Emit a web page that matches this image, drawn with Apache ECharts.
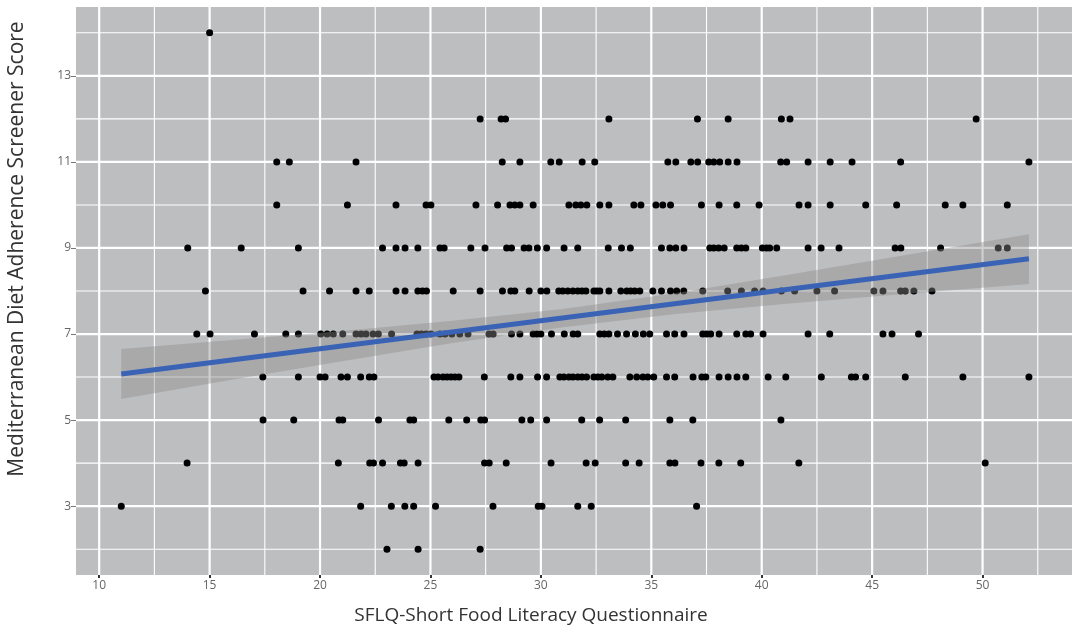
<!DOCTYPE html>
<html>
<head>
<meta charset="utf-8">
<script src="https://cdn.jsdelivr.net/npm/echarts@6/dist/echarts.min.js"></script>
<style>
html,body{margin:0;padding:0;background:#fff;}
#chart{width:1072px;height:632px;}
</style>
</head>
<body>
<div id="chart"></div>
<script>
// SFLQ scores (x) grouped by MEDAS score (y)
const score14 = [15.0];
const score13 = [];
const score12 = [27.25, 28.2, 28.4, 33.08, 37.09, 38.48, 40.89, 41.28, 49.71];
const score11 = [18.04, 18.61, 21.63, 28.25, 29.05, 30.45, 30.83, 31.87, 32.44, 35.75, 36.11, 36.79, 37.10, 37.60, 37.83, 38.10, 38.48, 38.88, 40.86, 41.13, 42.10, 43.10, 44.09, 46.29, 52.1];
const score10 = [18.04, 21.24, 23.44, 24.80, 25.02, 27.06, 28.04, 28.60, 28.82, 29.05, 29.65, 31.27, 31.58, 31.81, 32.08, 32.67, 33.08, 34.21, 34.53, 35.21, 35.52, 35.87, 37.27, 38.07, 38.87, 39.88, 41.69, 42.10, 43.10, 44.71, 46.11, 48.31, 49.11, 51.12];
const score9 = [14.01, 16.43, 19.02, 22.83, 23.44, 23.85, 24.43, 25.43, 25.62, 26.83, 27.47, 28.45, 28.67, 29.24, 29.46, 29.84, 30.26, 31.05, 31.67, 33.05, 33.65, 34.05, 35.46, 35.84, 36.11, 36.48, 37.65, 37.83, 38.05, 38.30, 38.87, 39.08, 39.28, 40.03, 40.21, 40.36, 40.68, 42.10, 42.69, 43.50, 46.04, 46.30, 48.10, 50.71, 51.12];
const score8 = [14.81, 19.23, 20.43, 21.63, 22.23, 23.44, 23.85, 24.43, 24.64, 24.82, 26.03, 27.25, 28.26, 28.64, 28.82, 29.47, 30.00, 30.27, 30.81, 30.99, 31.22, 31.45, 31.67, 31.86, 32.04, 32.40, 32.53, 32.67, 33.08, 33.62, 33.89, 34.07, 34.25, 34.48, 35.07, 35.46, 35.87, 36.15, 36.47, 37.33, 38.46, 39.08, 39.68, 40.06, 40.89, 41.49, 42.50, 43.30, 45.08, 45.49, 46.29, 46.50, 46.89, 47.71];
const score7 = [14.42, 15.02, 17.03, 18.45, 19.02, 20.03, 20.32, 20.60, 21.03, 21.63, 21.86, 22.08, 22.40, 22.64, 23.24, 24.39, 24.59, 24.80, 25.02, 25.43, 25.66, 25.97, 26.33, 26.70, 27.65, 27.84, 28.67, 29.05, 29.65, 29.82, 30.00, 30.48, 31.06, 31.46, 31.67, 32.67, 32.87, 33.08, 33.47, 33.88, 34.28, 34.64, 34.93, 35.69, 36.06, 36.48, 37.33, 37.51, 37.69, 38.07, 38.87, 39.28, 39.50, 40.06, 42.10, 43.08, 45.49, 45.90, 47.10];
const score6 = [17.41, 19.02, 20.00, 20.23, 20.95, 21.24, 21.84, 22.23, 22.44, 25.16, 25.34, 25.57, 25.75, 25.93, 26.11, 26.29, 27.44, 28.64, 29.05, 29.85, 30.26, 30.86, 31.04, 31.27, 31.45, 31.67, 31.86, 32.07, 32.40, 32.58, 32.76, 33.03, 33.26, 34.03, 34.34, 34.62, 34.84, 35.11, 35.69, 36.06, 36.89, 37.29, 37.47, 38.07, 38.48, 38.88, 39.28, 40.29, 41.09, 42.70, 44.06, 44.25, 44.71, 46.50, 49.11, 52.1];
const score5 = [17.42, 18.81, 20.86, 21.03, 22.65, 24.07, 24.24, 25.83, 26.64, 27.28, 27.45, 29.14, 29.54, 30.26, 31.85, 32.66, 33.84, 35.84, 36.88, 40.87];
const score4 = [13.98, 20.83, 22.25, 22.42, 22.83, 23.64, 23.81, 24.44, 27.45, 27.66, 28.43, 30.46, 32.05, 32.46, 33.84, 34.45, 35.84, 36.07, 37.25, 38.06, 39.05, 41.68, 50.12];
const score3 = [11.0, 21.84, 23.23, 23.84, 24.24, 25.23, 27.83, 29.88, 30.05, 31.67, 32.28, 37.05];
const score2 = [23.03, 24.44, 27.25];

// linear fit line and its confidence band
const fitX = [11.0, 52.1];
const fitY = [6.07, 8.75];
const bandX = [11, 16, 21, 26, 31, 36, 41, 46, 52.1];
const bandUpper = [6.65, 6.86, 7.07, 7.31, 7.58, 7.94, 8.36, 8.79, 9.32];
const bandLower = [5.49, 5.94, 6.37, 6.79, 7.16, 7.46, 7.70, 7.91, 8.16];

// ticks
const xMajor = [10, 15, 20, 25, 30, 35, 40, 45, 50];
const xMinor = [12.5, 17.5, 22.5, 27.5, 32.5, 37.5, 42.5, 47.5, 52.5];
const yMajor = [3, 5, 7, 9, 11, 13];
const yMinor = [2, 4, 6, 8, 10, 12, 14];

const X_MIN = 8.95, X_MAX = 54.05, Y_MIN = 1.4, Y_MAX = 14.6;

const rows = [[14, score14],[13, score13],[12, score12],[11, score11],[10, score10],[9, score9],[8, score8],[7, score7],[6, score6],[5, score5],[4, score4],[3, score3],[2, score2]];
const points = [];
rows.forEach(([y, xs]) => xs.forEach(x => points.push([x, y])));

const vLines = xMajor.map(v => [v, 8, 1]).concat(xMinor.map(v => [v, 8, 0]));
const hLines = yMajor.map(v => [30, v, 1]).concat(yMinor.map(v => [30, v, 0]));

const chart = echarts.init(document.getElementById('chart'), null, {renderer: 'canvas'});
const FONT = 'Open Sans';
chart.setOption({
  animation: false,
  backgroundColor: '#ffffff',
  grid: {left: 76, right: 0, top: 7, bottom: 57, show: true, backgroundColor: '#bdbec0', borderWidth: 0,
         containLabel: false, outerBoundsMode: 'none'},
  xAxis: {
    type: 'value', min: X_MIN, max: X_MAX,
    name: 'SFLQ-Short Food Literacy Questionnaire', nameLocation: 'middle', nameGap: 31,
    nameTextStyle: {fontFamily: FONT, fontSize: 19, color: '#333', padding: [0, 86, 0, 0]},
    axisLine: {show: false},
    axisTick: {show: true, customValues: xMajor, length: 3, lineStyle: {color: '#333', width: 2}},
    axisLabel: {customValues: xMajor, fontFamily: FONT, fontSize: 12, color: '#666', margin: 5},
    splitLine: {show: false}
  },
  yAxis: {
    type: 'value', min: Y_MIN, max: Y_MAX,
    name: 'Mediterranean Diet Adherence Screener Score', nameLocation: 'middle', nameGap: 48,
    nameTextStyle: {fontFamily: FONT, fontSize: 21, color: '#333', padding: [0, 0, 0, 84]},
    axisLine: {show: false},
    axisTick: {show: true, customValues: yMajor, length: 5, lineStyle: {color: '#777', width: 1}},
    axisLabel: {customValues: yMajor, fontFamily: FONT, fontSize: 12, color: '#666', margin: 5},
    splitLine: {show: false}
  },
  series: [
    {
      type: 'custom', z: 1, silent: true, data: vLines,
      renderItem: function (params, api) {
        const cs = params.coordSys;
        const x = api.coord([api.value(0), Y_MIN])[0];
        const major = api.value(2) === 1;
        return {type: 'line', shape: {x1: x, y1: cs.y, x2: x, y2: cs.y + cs.height},
          style: {stroke: '#ffffff', lineWidth: major ? 2.2 : 1.1}};
      }
    },
    {
      type: 'custom', z: 1, silent: true, data: hLines,
      renderItem: function (params, api) {
        const cs = params.coordSys;
        const y = api.coord([X_MIN, api.value(1)])[1];
        const major = api.value(2) === 1;
        return {type: 'line', shape: {x1: cs.x, y1: y, x2: cs.x + cs.width, y2: y},
          style: {stroke: '#ffffff', lineWidth: major ? 2.2 : 1.1}};
      }
    },
    {
      type: 'scatter', z: 2, data: points, symbolSize: 7,
      itemStyle: {color: '#000000', opacity: 1}, silent: true
    },
    {
      type: 'custom', z: 3, silent: true, data: [[bandX[0], bandLower[0]]],
      renderItem: function (params, api) {
        const pts = [];
        for (let i = 0; i < bandX.length; i++) pts.push(api.coord([bandX[i], bandUpper[i]]));
        for (let i = bandX.length - 1; i >= 0; i--) pts.push(api.coord([bandX[i], bandLower[i]]));
        return {type: 'polygon', shape: {points: pts}, style: {fill: 'rgba(140,140,140,0.42)'}};
      }
    },
    {
      type: 'line', z: 4, silent: true, symbol: 'none',
      data: fitX.map((x, i) => [x, fitY[i]]),
      lineStyle: {color: '#3a63b5', width: 5}
    }
  ]
});
</script>
</body>
</html>
